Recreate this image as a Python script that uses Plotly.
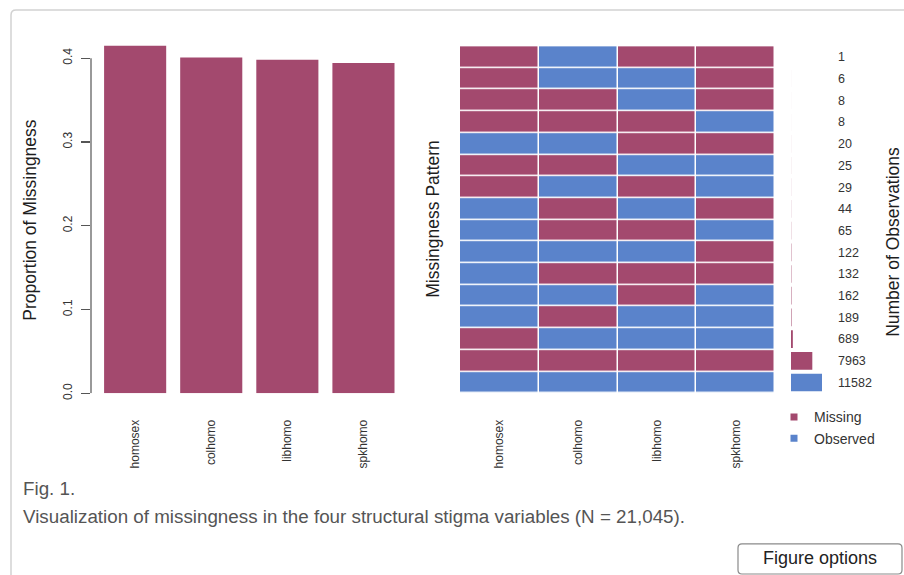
import plotly.graph_objects as go

# ---- data -------------------------------------------------------------
variables = ["homosex", "colhomo", "libhomo", "spkhomo"]
prop_missing = [0.4148, 0.4008, 0.3982, 0.3942]

# missingness patterns (1 = missing, 0 = observed), one row per pattern
patterns = [
    [1, 0, 1, 1],
    [1, 0, 0, 1],
    [1, 1, 0, 1],
    [1, 1, 1, 0],
    [0, 0, 1, 1],
    [1, 1, 0, 0],
    [1, 0, 1, 0],
    [0, 1, 0, 1],
    [0, 1, 1, 0],
    [0, 0, 0, 1],
    [0, 1, 1, 1],
    [0, 0, 1, 0],
    [0, 1, 0, 0],
    [1, 0, 0, 0],
    [1, 1, 1, 1],
    [0, 0, 0, 0],
]
pattern_counts = [1, 6, 8, 8, 20, 25, 29, 44, 65, 122, 132, 162, 189, 689, 7963, 11582]
prop_ticks = [0.0, 0.1, 0.2, 0.3, 0.4]

# ---- styling ----------------------------------------------------------
W, H = 904, 584          # figure size in pixels
GW, GH = 904, 575        # layout grid used for placing the panels
RED = "#A3496E"
BLUE = "#5A83CB"
FONT = "Liberation Sans, Arial, sans-serif"


def px(x):
    return x / GW


def py(y):
    return 1 - y / GH


row_idx = list(range(len(patterns)))
bar_colors = [BLUE if sum(p) == 0 else RED for p in patterns]

fig = go.Figure()

# left: proportion of missing values per variable
fig.add_trace(go.Bar(
    x=variables, y=prop_missing, marker=dict(color=RED, line=dict(width=0)),
    xaxis="x", yaxis="y", showlegend=False, hoverinfo="skip",
))

# middle: pattern grid
fig.add_trace(go.Heatmap(
    z=patterns, x=variables, y=row_idx,
    colorscale=[[0, BLUE], [0.5, BLUE], [0.5, RED], [1, RED]],
    zmin=0, zmax=1, showscale=False, xgap=1.5, ygap=1.5,
    xaxis="x2", yaxis="y2", hoverinfo="skip",
))

# right: number of observations per pattern
fig.add_trace(go.Bar(
    x=pattern_counts, y=row_idx, orientation="h",
    marker=dict(color=bar_colors, line=dict(width=0)),
    xaxis="x3", yaxis="y3", showlegend=False, hoverinfo="skip",
))

# legend keys
for name, col in [("Missing", RED), ("Observed", BLUE)]:
    fig.add_trace(go.Scatter(
        x=[None], y=[None], mode="markers", name=name,
        marker=dict(symbol="square", size=7, color=col),
        xaxis="x3", yaxis="y3", showlegend=True,
    ))

tick_font = dict(family=FONT, size=12, color="#333")

fig.update_layout(
    width=W, height=H,
    margin=dict(l=0, r=0, t=0, b=0),
    paper_bgcolor="white", plot_bgcolor="white",
    font=dict(family=FONT, color="#333"),
    bargap=0.184,
    xaxis=dict(
        domain=[px(91), px(401.5)], range=[-0.58, 3.5], type="category",
        showgrid=False, zeroline=False, showline=False, ticks="",
        tickangle=-90, tickfont=tick_font, ticklabelstandoff=23,
        anchor="y",
    ),
    yaxis=dict(
        domain=[py(392), py(41.3)], range=[0, 0.42],
        tickvals=prop_ticks, ticktext=[f"{v:.1f}" for v in prop_ticks],
        showgrid=False, zeroline=False, showline=False,
        ticks="outside", ticklen=9, tickwidth=1.2, tickcolor="#555",
        tickangle=-90, tickfont=tick_font, ticklabelstandoff=4,
        anchor="x",
    ),
    xaxis2=dict(
        domain=[px(460), px(775)], range=[-0.5, 3.5], type="category",
        showgrid=False, zeroline=False, showline=False, ticks="",
        tickangle=-90, tickfont=tick_font, ticklabelstandoff=23,
        anchor="y2",
    ),
    yaxis2=dict(
        domain=[py(392), py(46)], range=[15.5, -0.5],
        showgrid=False, zeroline=False, showline=False,
        showticklabels=False, ticks="", anchor="x2",
    ),
    xaxis3=dict(
        domain=[px(791), px(822)], range=[0, max(pattern_counts)],
        showgrid=False, zeroline=False, showline=False,
        showticklabels=False, ticks="", anchor="y3",
    ),
    yaxis3=dict(
        domain=[py(392), py(46)], range=[15.5, -0.5],
        tickvals=row_idx, ticktext=[str(c) for c in pattern_counts],
        side="right", anchor="x3",
        showgrid=False, zeroline=False, showline=False, ticks="",
        tickfont=dict(family=FONT, size=12.5, color="#333"),
        ticklabelstandoff=15,
    ),
    legend=dict(
        x=px(774), y=py(400), xanchor="left", yanchor="top",
        bgcolor="rgba(0,0,0,0)", borderwidth=0,
        font=dict(family=FONT, size=14, color="#333"),
        itemwidth=30, tracegroupgap=0,
    ),
)

# y-axis line spanning only the tick range
fig.add_shape(type="line", xref="x domain", yref="y", x0=0, x1=0,
              y0=prop_ticks[0], y1=prop_ticks[-1],
              line=dict(color="#555", width=1.2))

title_font = dict(family=FONT, size=17.5, color="#1e1e1e")
for text, x, y in [("Proportion of Missingness", 30, 219),
                   ("Missingness Pattern", 433, 218),
                   ("Number of Observations", 893, 241)]:
    fig.add_annotation(text=text, x=px(x), y=py(y), xref="paper", yref="paper",
                       textangle=-90, showarrow=False, font=title_font,
                       xanchor="center", yanchor="middle")

# surrounding figure panel (rounded top-left corner)
frame = (f"M {px(11)},{py(575)} L {px(11)},{py(15)} "
         f"Q {px(11)},{py(10)} {px(16)},{py(10)} L {px(904)},{py(10)}")
fig.add_shape(type="path", xref="paper", yref="paper", path=frame,
              line=dict(color="#d2d2d2", width=1.5))

# caption
cap_font = dict(family=FONT, size=18.8, color="#555")
fig.add_annotation(text="Fig. 1.", x=px(21), y=py(487), xref="paper", yref="paper",
                   xanchor="left", yanchor="middle", showarrow=False, font=cap_font)
fig.add_annotation(
    text="Visualization of missingness in the four structural stigma variables (N = 21,045).",
    x=px(21), y=py(515), xref="paper", yref="paper",
    xanchor="left", yanchor="middle", showarrow=False, font=cap_font)

# "Figure options" button
bx0, bx1, by0, by1, r = 738, 902, 542, 572, 4
button = (f"M {px(bx0 + r)},{py(by0)} L {px(bx1 - r)},{py(by0)} "
          f"Q {px(bx1)},{py(by0)} {px(bx1)},{py(by0 + r)} "
          f"L {px(bx1)},{py(by1 - r)} Q {px(bx1)},{py(by1)} {px(bx1 - r)},{py(by1)} "
          f"L {px(bx0 + r)},{py(by1)} Q {px(bx0)},{py(by1)} {px(bx0)},{py(by1 - r)} "
          f"L {px(bx0)},{py(by0 + r)} Q {px(bx0)},{py(by0)} {px(bx0 + r)},{py(by0)} Z")
fig.add_shape(type="path", xref="paper", yref="paper", path=button,
              line=dict(color="#8a8a8a", width=1.2), fillcolor="white")
fig.add_annotation(text="Figure options", x=px((bx0 + bx1) / 2), y=py(556.5),
                   xref="paper", yref="paper", xanchor="center", yanchor="middle",
                   showarrow=False, font=dict(family=FONT, size=18, color="#222"))

# static rendering keeps sub-pixel bar lengths exact
fig.write_html("out.html", config={"staticPlot": True})
